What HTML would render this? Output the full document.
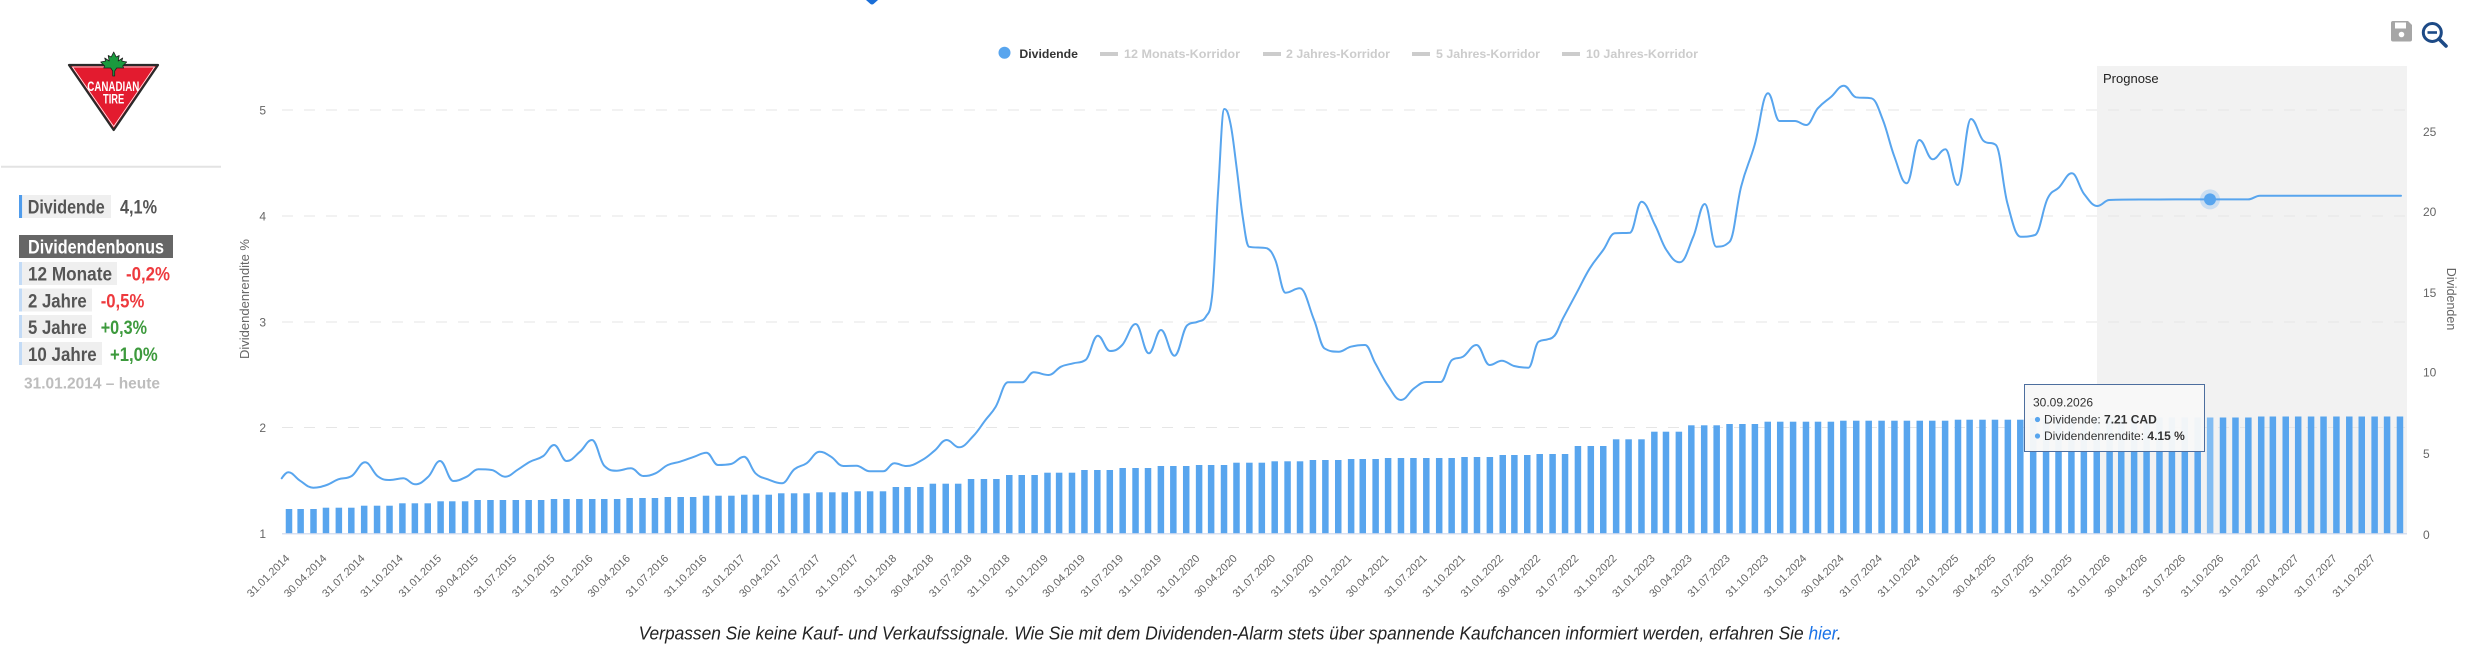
<!DOCTYPE html>
<html><head><meta charset="utf-8">
<style>
html,body{margin:0;padding:0;background:#fff;}
body{width:2483px;height:658px;overflow:hidden;}
svg{display:block;font-family:"Liberation Sans",Arial,sans-serif;}
</style></head>
<body>
<svg id="s" width="2483" height="658" viewBox="0 0 2483 658" xmlns="http://www.w3.org/2000/svg">
<rect x="0" y="0" width="2483" height="658" fill="#fff"/>

<!-- top chevron -->
<path d="M866,0 L878,0 L873.5,4 Q872,5 870.5,4 Z" fill="#1a6ed8"/>

<!-- LOGO -->
<path d="M69,65 L158,65 L113.7,130 Z" fill="#e31b2f" stroke="#2a2a2a" stroke-width="2.2" stroke-linejoin="round"/>
<path d="M72.5,67 L154.5,67 L113.7,126.5 Z" fill="none" stroke="#ffffff" stroke-width="0.7" stroke-linejoin="round"/>
<g transform="translate(113.7,64)">
<path d="M0,-12 L2.5,-7 L5.5,-8.5 L4.5,-3 L9,-6 L8,-3 L13,-2 L9,2 L10,4 L3,4 L1,7 L1,12 L-1,12 L-1,7 L-3,4 L-10,4 L-9,2 L-13,-2 L-8,-3 L-9,-6 L-4.5,-3 L-5.5,-8.5 L-2.5,-7 Z" fill="#1b9a3e" stroke="#1f1f1f" stroke-width="0.8" stroke-linejoin="round"/>
</g>
<text x="87.3" y="91" font-size="13.5" font-weight="bold" fill="#fff" textLength="52" lengthAdjust="spacingAndGlyphs">CANADIAN</text>
<text x="103" y="103.7" font-size="13.5" font-weight="bold" fill="#fff" textLength="21.3" lengthAdjust="spacingAndGlyphs">TIRE</text>

<!-- separator -->
<line x1="1" y1="166.7" x2="221" y2="166.7" stroke="#e3e3e3" stroke-width="2"/>

<!-- left panel -->
<rect x="19" y="195" width="3.2" height="23" fill="#4f9cec"/>
<rect x="22.2" y="195" width="88.8" height="23" fill="#efefef"/>
<text x="27.7" y="213.3" font-size="19" font-weight="bold" fill="#555" textLength="77" lengthAdjust="spacingAndGlyphs">Dividende</text>
<text x="120" y="213.3" font-size="19" font-weight="bold" fill="#555" textLength="37" lengthAdjust="spacingAndGlyphs">4,1%</text>

<rect x="19" y="235" width="154" height="23" fill="#666"/>
<text x="28" y="253.5" font-size="19" font-weight="bold" fill="#fff" textLength="136" lengthAdjust="spacingAndGlyphs">Dividendenbonus</text>

<rect x="19" y="262" width="3.2" height="23" fill="#c3dbf6"/>
<rect x="22.2" y="262" width="94.8" height="23" fill="#efefef"/>
<text x="28" y="280.7" font-size="19" font-weight="bold" fill="#555" textLength="84" lengthAdjust="spacingAndGlyphs">12 Monate</text>
<text x="126" y="280.7" font-size="19" font-weight="bold" fill="#ee3a3e" textLength="44" lengthAdjust="spacingAndGlyphs">-0,2%</text>

<rect x="19" y="288.5" width="3.2" height="23" fill="#c3dbf6"/>
<rect x="22.2" y="288.5" width="69.8" height="23" fill="#efefef"/>
<text x="28" y="307.3" font-size="19" font-weight="bold" fill="#555" textLength="58.7" lengthAdjust="spacingAndGlyphs">2 Jahre</text>
<text x="100.7" y="307.3" font-size="19" font-weight="bold" fill="#ee3a3e" textLength="43.6" lengthAdjust="spacingAndGlyphs">-0,5%</text>

<rect x="19" y="315" width="3.2" height="23" fill="#c3dbf6"/>
<rect x="22.2" y="315" width="69.8" height="23" fill="#efefef"/>
<text x="28" y="334" font-size="19" font-weight="bold" fill="#555" textLength="58.7" lengthAdjust="spacingAndGlyphs">5 Jahre</text>
<text x="100.7" y="334" font-size="19" font-weight="bold" fill="#3d9a3d" textLength="46.3" lengthAdjust="spacingAndGlyphs">+0,3%</text>

<rect x="19" y="342" width="3.2" height="23" fill="#c3dbf6"/>
<rect x="22.2" y="342" width="79.8" height="23" fill="#efefef"/>
<text x="28" y="361" font-size="19" font-weight="bold" fill="#555" textLength="68.7" lengthAdjust="spacingAndGlyphs">10 Jahre</text>
<text x="110" y="361" font-size="19" font-weight="bold" fill="#3d9a3d" textLength="47.7" lengthAdjust="spacingAndGlyphs">+1,0%</text>

<text x="24" y="388.7" font-size="15.5" font-weight="bold" fill="#bdbdbd" textLength="136" lengthAdjust="spacingAndGlyphs">31.01.2014 – heute</text>

<!-- legend -->
<circle cx="1004.5" cy="52.7" r="6" fill="#58a5ee"/>
<text x="1019.4" y="57.8" font-size="12" font-weight="bold" fill="#333" textLength="58.6" lengthAdjust="spacingAndGlyphs">Dividende</text>
<g fill="#cccccc" font-size="12" font-weight="bold">
<rect x="1100" y="52" width="18" height="4"/>
<text x="1124" y="57.8" textLength="116" lengthAdjust="spacingAndGlyphs">12 Monats-Korridor</text>
<rect x="1263" y="52" width="18" height="4"/>
<text x="1286" y="57.8" textLength="104" lengthAdjust="spacingAndGlyphs">2 Jahres-Korridor</text>
<rect x="1412" y="52" width="18" height="4"/>
<text x="1436" y="57.8" textLength="104" lengthAdjust="spacingAndGlyphs">5 Jahres-Korridor</text>
<rect x="1562" y="52" width="18" height="4"/>
<text x="1586" y="57.8" textLength="112" lengthAdjust="spacingAndGlyphs">10 Jahres-Korridor</text>
</g>

<!-- icons -->
<path d="M2391,23 Q2391,21 2393,21 L2408,21 L2412,25 L2412,39.5 Q2412,41.5 2410,41.5 L2393,41.5 Q2391,41.5 2391,39.5 Z" fill="#a6a6a6"/>
<rect x="2395" y="22.5" width="11" height="6" fill="#fff"/>
<circle cx="2401.5" cy="34.5" r="2.8" fill="#fff"/>
<circle cx="2432.3" cy="32.5" r="9" fill="none" stroke="#1d4a86" stroke-width="3"/>
<line x1="2427.5" y1="32.5" x2="2437" y2="32.5" stroke="#1d4a86" stroke-width="2.6"/>
<line x1="2439" y1="39" x2="2446" y2="46" stroke="#1d4a86" stroke-width="3.6" stroke-linecap="round"/>

<!-- plot band -->
<rect x="2097" y="66" width="310" height="467.3" fill="#f2f2f2"/>
<text x="2103" y="83" font-size="13" fill="#222">Prognose</text>

<!-- grid -->
<g stroke="#e6e6e6" stroke-width="1" stroke-dasharray="11,11">
<line x1="282" y1="110" x2="2407" y2="110"/>
<line x1="282" y1="216" x2="2407" y2="216"/>
<line x1="282" y1="322" x2="2407" y2="322"/>
<line x1="282" y1="427.5" x2="2407" y2="427.5"/>
</g>

<!-- bars -->
<g id="bars" fill="#58a5ee"></g>
<line x1="282" y1="533.8" x2="2407" y2="533.8" stroke="#ccd6eb" stroke-width="1.2"/>

<!-- line -->
<path id="ln" fill="none" stroke="#58a5ee" stroke-width="2" stroke-linejoin="round" stroke-linecap="round" d="M281.7,478.3 L288.3,472.3 L300,480.7 L313.3,487.7 L326.7,485 L338.3,479.3 L351.7,476 L365,462.3 L378.3,476.7 L390,480 L403.3,478.3 L415,484.3 L428.3,476.7 L440,461 L453.3,481 L466.7,476.7 L478.3,469.3 L491.7,470 L505,476.7 L518.3,469.3 L530,461.7 L543.3,456 L554,445 L566.7,461 L580,451.7 L592,440 L604.5,466 L616.7,470.7 L631,468.3 L643.3,476 L655.5,473.3 L667.8,465 L680,461.7 L694.3,456.7 L706.5,452.7 L718,465 L731,464 L744,456.7 L755.5,473.3 L767.8,479.3 L782,483.3 L794.3,469.3 L806.5,463.3 L819.6,451.7 L831,456.7 L843.3,466 L856.3,465.7 L869.8,471.3 L883.3,471.3 L894.3,463.3 L906.5,466 L922.2,460 L934.5,450.7 L946.7,440 L959,447.3 L973.3,436 L985.5,420 L995.7,406.7 L1008,382.3 L1022.2,382.3 L1033.7,372.3 L1048.8,375 L1061,366.7 L1073.3,363.3 L1085.5,360 L1097.8,335.7 L1110,351 L1122.2,345 L1135.7,324 L1148.8,353.3 L1161,330 L1174.5,355.7 L1187.6,325 L1197.8,321.7 L1205.9,316.7 L1212,296.7 L1218.2,190 L1224.3,109 L1230.4,123.3 L1236.5,166.7 L1242.7,216.7 L1248.8,246.7 L1267.1,248.3 L1275.3,260 L1285.5,292.7 L1299.8,288.3 L1314.1,320 L1324.3,348.3 L1338.6,351.7 L1350.8,346.7 L1365.1,345 L1375.3,363.3 L1387.6,385 L1401,400 L1414.1,388.3 L1426.3,382 L1440.6,382 L1452,360 L1463,356.7 L1476.5,345 L1489.6,365 L1501.8,360.7 L1514.1,366 L1528.4,367.7 L1538.6,341.7 L1547.7,339.3 L1553.4,336.7 L1563,318.3 L1576.4,293.3 L1589.8,268.3 L1603.2,250 L1614.7,233.3 L1630,232.7 L1641.5,201.7 L1655,225 L1666.4,250 L1679.8,262.3 L1693.3,236.7 L1704.8,204 L1716.2,246.7 L1729.7,241.7 L1741.1,186.7 L1754.6,145 L1768,93.3 L1779.5,121 L1794.8,121 L1806.3,125 L1817.8,108.3 L1831.2,96.7 L1843.8,85.7 L1856.1,97.3 L1871.4,98.3 L1882.9,120 L1894.4,156.7 L1906.7,183.3 L1919.3,140 L1932.7,159.3 L1945.4,149.3 L1957.6,185 L1971,119 L1983.7,141 L1995.9,145 L2007.4,203.3 L2020.8,236.7 L2035,235 L2047.7,198.3 L2059.1,187.3 L2071.8,173.3 L2084.1,194 L2097.5,206 L2109,200 L2150,199.5 L2200,199.4 L2248,199.4 L2260,195.7 L2300,195.7 L2350,195.7 L2401,195.7"/>

<!-- hover marker -->
<circle cx="2210" cy="199.4" r="10" fill="#58a5ee" fill-opacity="0.25"/>
<circle cx="2210" cy="199.4" r="6" fill="#58a5ee"/>

<!-- left axis labels -->
<g font-size="12" fill="#666" text-anchor="end">
<text x="266" y="114.5">5</text>
<text x="266" y="220.5">4</text>
<text x="266" y="326.5">3</text>
<text x="266" y="432">2</text>
<text x="266" y="538">1</text>
</g>
<text transform="translate(249,299) rotate(-90)" text-anchor="middle" font-size="13" fill="#666">Dividendenrendite %</text>

<!-- right axis labels -->
<g font-size="12" fill="#666">
<text x="2423" y="136">25</text>
<text x="2423" y="216">20</text>
<text x="2423" y="297">15</text>
<text x="2423" y="376.7">10</text>
<text x="2423" y="457.8">5</text>
<text x="2423" y="538.8">0</text>
</g>
<text transform="translate(2447,299) rotate(90)" text-anchor="middle" font-size="12.5" fill="#666">Dividenden</text>

<!-- x axis labels -->
<g font-size="11" fill="#666" text-anchor="end" transform="translate(1.3,0)">
<text transform="translate(289,559) rotate(-45)">31.01.2014</text>
<text transform="translate(325.97,559) rotate(-45)">30.04.2014</text>
<text transform="translate(364.18,559) rotate(-45)">31.07.2014</text>
<text transform="translate(402.39,559) rotate(-45)">31.10.2014</text>
<text transform="translate(440.6,559) rotate(-45)">31.01.2015</text>
<text transform="translate(477.57,559) rotate(-45)">30.04.2015</text>
<text transform="translate(515.78,559) rotate(-45)">31.07.2015</text>
<text transform="translate(553.99,559) rotate(-45)">31.10.2015</text>
<text transform="translate(592.21,559) rotate(-45)">31.01.2016</text>
<text transform="translate(629.59,559) rotate(-45)">30.04.2016</text>
<text transform="translate(667.8,559) rotate(-45)">31.07.2016</text>
<text transform="translate(706.01,559) rotate(-45)">31.10.2016</text>
<text transform="translate(744.22,559) rotate(-45)">31.01.2017</text>
<text transform="translate(781.19,559) rotate(-45)">30.04.2017</text>
<text transform="translate(819.4,559) rotate(-45)">31.07.2017</text>
<text transform="translate(857.61,559) rotate(-45)">31.10.2017</text>
<text transform="translate(895.83,559) rotate(-45)">31.01.2018</text>
<text transform="translate(932.8,559) rotate(-45)">30.04.2018</text>
<text transform="translate(971.01,559) rotate(-45)">31.07.2018</text>
<text transform="translate(1009.22,559) rotate(-45)">31.10.2018</text>
<text transform="translate(1047.44,559) rotate(-45)">31.01.2019</text>
<text transform="translate(1084.41,559) rotate(-45)">30.04.2019</text>
<text transform="translate(1122.62,559) rotate(-45)">31.07.2019</text>
<text transform="translate(1160.83,559) rotate(-45)">31.10.2019</text>
<text transform="translate(1199.05,559) rotate(-45)">31.01.2020</text>
<text transform="translate(1236.43,559) rotate(-45)">30.04.2020</text>
<text transform="translate(1274.64,559) rotate(-45)">31.07.2020</text>
<text transform="translate(1312.85,559) rotate(-45)">31.10.2020</text>
<text transform="translate(1351.06,559) rotate(-45)">31.01.2021</text>
<text transform="translate(1388.03,559) rotate(-45)">30.04.2021</text>
<text transform="translate(1426.24,559) rotate(-45)">31.07.2021</text>
<text transform="translate(1464.45,559) rotate(-45)">31.10.2021</text>
<text transform="translate(1502.67,559) rotate(-45)">31.01.2022</text>
<text transform="translate(1539.64,559) rotate(-45)">30.04.2022</text>
<text transform="translate(1577.85,559) rotate(-45)">31.07.2022</text>
<text transform="translate(1616.06,559) rotate(-45)">31.10.2022</text>
<text transform="translate(1654.28,559) rotate(-45)">31.01.2023</text>
<text transform="translate(1691.25,559) rotate(-45)">30.04.2023</text>
<text transform="translate(1729.46,559) rotate(-45)">31.07.2023</text>
<text transform="translate(1767.67,559) rotate(-45)">31.10.2023</text>
<text transform="translate(1805.89,559) rotate(-45)">31.01.2024</text>
<text transform="translate(1843.27,559) rotate(-45)">30.04.2024</text>
<text transform="translate(1881.48,559) rotate(-45)">31.07.2024</text>
<text transform="translate(1919.69,559) rotate(-45)">31.10.2024</text>
<text transform="translate(1957.9,559) rotate(-45)">31.01.2025</text>
<text transform="translate(1994.87,559) rotate(-45)">30.04.2025</text>
<text transform="translate(2033.08,559) rotate(-45)">31.07.2025</text>
<text transform="translate(2071.29,559) rotate(-45)">31.10.2025</text>
<text transform="translate(2109.51,559) rotate(-45)">31.01.2026</text>
<text transform="translate(2146.48,559) rotate(-45)">30.04.2026</text>
<text transform="translate(2184.69,559) rotate(-45)">31.07.2026</text>
<text transform="translate(2222.9,559) rotate(-45)">31.10.2026</text>
<text transform="translate(2261.12,559) rotate(-45)">31.01.2027</text>
<text transform="translate(2298.09,559) rotate(-45)">30.04.2027</text>
<text transform="translate(2336.3,559) rotate(-45)">31.07.2027</text>
<text transform="translate(2374.51,559) rotate(-45)">31.10.2027</text>
</g>

<!-- tooltip -->
<rect x="2024.5" y="384.5" width="180" height="67" fill="#f8f8f8" fill-opacity="0.96" stroke="#4d6e9e" stroke-width="1"/>
<g font-size="12" fill="#333">
<text x="2033" y="406.5">30.09.2026</text>
<circle cx="2037.5" cy="419.5" r="2.6" fill="#58a5ee"/>
<text x="2044" y="423.5">Dividende: <tspan font-weight="bold">7.21 CAD</tspan></text>
<circle cx="2037.5" cy="436" r="2.6" fill="#58a5ee"/>
<text x="2044" y="440">Dividendenrendite: <tspan font-weight="bold">4.15 %</tspan></text>
</g>

<!-- bottom text -->
<text x="638.6" y="639.3" font-size="18" font-style="italic" fill="#222" textLength="1203" lengthAdjust="spacingAndGlyphs">Verpassen Sie keine Kauf- und Verkaufssignale. Wie Sie mit dem Dividenden-Alarm stets über spannende Kaufchancen informiert werden, erfahren Sie <tspan fill="#1a73e8">hier</tspan>.</text>
</svg>

<script>
(function(){
  var NS="http://www.w3.org/2000/svg";
  var tops=[509,507.7,505.7,503.3,501.3,500,500,499,499,498,497,495.7,494.7,493.3,492.3,491.3,
    487,483.7,479,475,472.7,470,468,466,465,462.7,461.3,460,459,458,458,457,455,454,
    446,439.3,431.7,425.3,424,421.7,421.7,420.7,420.7,420.7,419.7,419.7,
    418,418,417.5,417.5,417.5,417.5,416.5,416.5,416.5,416.5];
  var g=document.getElementById("bars");
  var base=Date.UTC(2014,0,31);
  for(var m=0;m<168;m++){
    var yr=2014+Math.floor(m/12), mo=m%12;
    var d=Date.UTC(yr,mo+1,0);
    var days=(d-base)/86400000;
    var x=289+days*0.41538;
    var t=tops[Math.floor(m/3)];
    var r=document.createElementNS(NS,"rect");
    r.setAttribute("x",(x-3.25).toFixed(2));
    r.setAttribute("y",t);
    r.setAttribute("width","6.5");
    r.setAttribute("height",(533.3-t).toFixed(2));
    if(m===152) r.setAttribute("fill","#82bcf2");
    g.appendChild(r);
  }
  // Highcharts-like spline
  var p=document.getElementById("ln");
  var nums=p.getAttribute("d").match(/-?[\d.]+/g).map(Number);
  var pts=[];
  for(var i=0;i<nums.length;i+=2) pts.push([nums[i],nums[i+1]]);
  var s=1.5,den=2.5,L=[],R=[];
  for(i=0;i<pts.length;i++){
    var x0=pts[i][0],y0=pts[i][1];
    if(i===0||i===pts.length-1){L[i]=[x0,y0];R[i]=[x0,y0];continue;}
    var lx=pts[i-1][0],ly=pts[i-1][1],nx=pts[i+1][0],ny=pts[i+1][1];
    var lcx=(s*x0+lx)/den,lcy=(s*y0+ly)/den,rcx=(s*x0+nx)/den,rcy=(s*y0+ny)/den;
    if(rcx!==lcx){var c=((rcy-lcy)*(rcx-x0))/(rcx-lcx)+y0-rcy;lcy+=c;rcy+=c;}
    if(lcy>ly&&lcy>y0){lcy=Math.max(ly,y0);rcy=2*y0-lcy;}
    else if(lcy<ly&&lcy<y0){lcy=Math.min(ly,y0);rcy=2*y0-lcy;}
    if(rcy>ny&&rcy>y0){rcy=Math.max(ny,y0);lcy=2*y0-rcy;}
    else if(rcy<ny&&rcy<y0){rcy=Math.min(ny,y0);lcy=2*y0-rcy;}
    L[i]=[lcx,lcy];R[i]=[rcx,rcy];
  }
  var dd="M"+pts[0][0]+","+pts[0][1];
  for(i=1;i<pts.length;i++){
    dd+=" C"+R[i-1][0].toFixed(2)+","+R[i-1][1].toFixed(2)+" "+L[i][0].toFixed(2)+","+L[i][1].toFixed(2)+" "+pts[i][0]+","+pts[i][1];
  }
  p.setAttribute("d",dd);
})();
</script>
</body></html>
